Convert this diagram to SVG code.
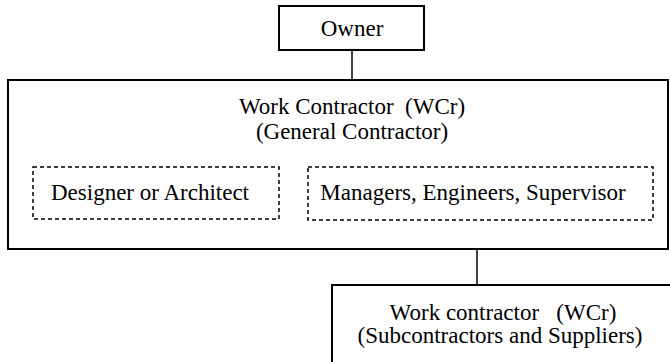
<svg xmlns="http://www.w3.org/2000/svg" width="670" height="362" viewBox="0 0 670 362">
<style>
.box{fill:#fff;stroke:#000;stroke-width:2}
.dash{fill:none;stroke:#000;stroke-width:1.5;stroke-dasharray:4,3}
.t{font-family:"Liberation Serif","Times New Roman",serif;font-size:23px;fill:#000;text-anchor:middle;white-space:pre}
.ln{stroke:#000;stroke-width:1.5;fill:none}
</style>
<rect width="670" height="362" fill="#fff"/>
<g id="connectors">
<line class="ln" x1="352" y1="50" x2="352" y2="80"/>
<line class="ln" x1="477" y1="249" x2="477" y2="285"/>
</g>
<g id="owner">
<rect class="box" x="279" y="6" width="145" height="44"/>
<text class="t" x="352" y="36">Owner</text>
</g>
<g id="wcr-general">
<rect class="box" x="8" y="80" width="660" height="169"/>
<text class="t" x="352" y="114" xml:space="preserve">Work Contractor  (WCr)</text>
<text class="t" x="352" y="139">(General Contractor)</text>
</g>
<g id="designer">
<rect class="dash" x="33" y="167" width="246" height="52"/>
<text class="t" x="150" y="200">Designer or Architect</text>
</g>
<g id="managers">
<rect class="dash" x="308" y="167" width="345" height="53"/>
<text class="t" x="473" y="200">Managers, Engineers, Supervisor</text>
</g>
<g id="wcr-sub">
<rect class="box" x="332" y="285" width="346" height="90"/>
<text class="t" x="503" y="320" xml:space="preserve">Work contractor   (WCr)</text>
<text class="t" x="500" y="343">(Subcontractors and Suppliers)</text>
</g>
</svg>
